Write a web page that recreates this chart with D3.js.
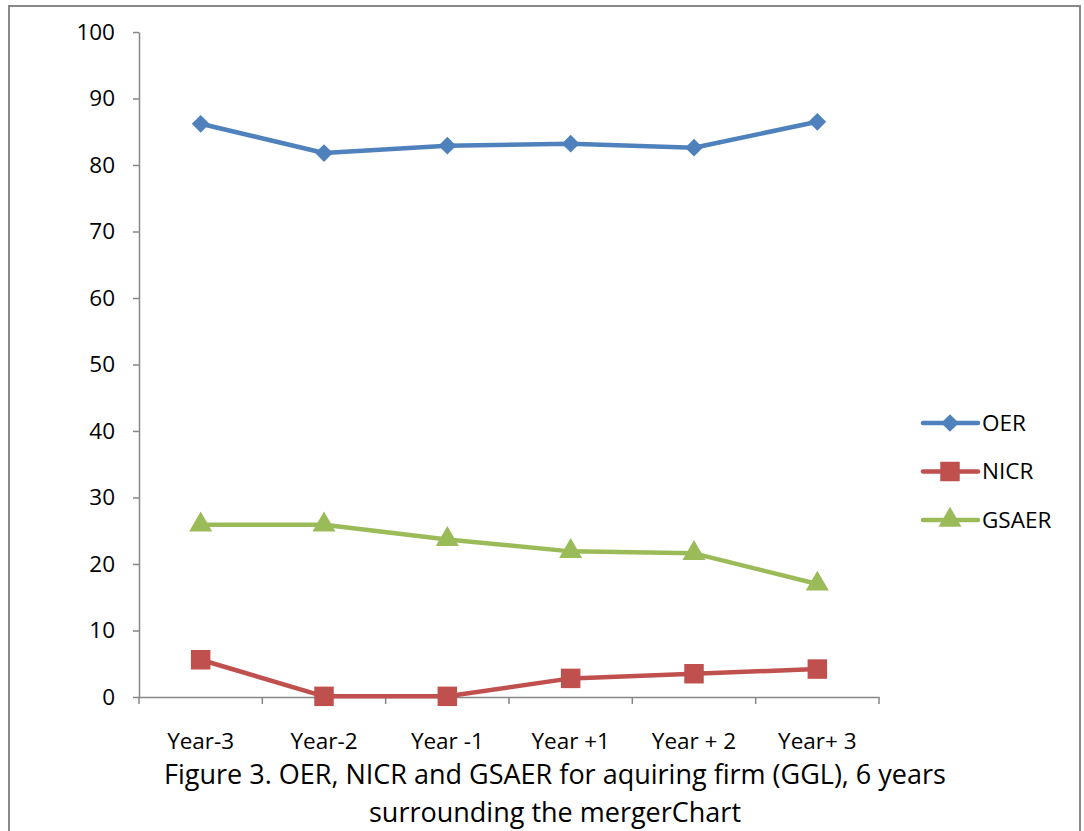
<!DOCTYPE html>
<html>
<head>
<meta charset="utf-8">
<script src="https://cdn.jsdelivr.net/npm/d3@7"></script>
<style>
    body { margin: 0; background: #fff; }
    svg text { font-family: "Open Sans", "Noto Sans", sans-serif; fill: #000; }
</style>
</head>
<body>
<div id="chart"></div>
<script>
"use strict";

var years = ["Year-3", "Year-2", "Year -1", "Year +1", "Year + 2", "Year+ 3"];
var oer = [86.2, 81.8, 82.9, 83.2, 82.6, 86.5];
var nicr = [5.6, 0.1, 0.1, 2.8, 3.5, 4.2];
var gsaer = [25.9, 25.9, 23.7, 21.9, 21.6, 17.0];
var yTicks = [0, 10, 20, 30, 40, 50, 60, 70, 80, 90, 100];
var captionLines = [
    "Figure 3. OER, NICR and GSAER for aquiring firm (GGL), 6 years",
    "surrounding the mergerChart"
];

var series = [
    { name: "OER", values: oer, color: "#4F81BD", shape: d3.symbolDiamond2, size: 200 },
    { name: "NICR", values: nicr, color: "#C0504D", shape: d3.symbolSquare, size: 380 },
    { name: "GSAER", values: gsaer, color: "#9BBB59", shape: d3.symbolTriangle, size: 230 }
];

var W = 1084, H = 831;
var margin = { top: 32, left: 139, right: 205, bottom: 134 };
var width = W - margin.left - margin.right;
var height = H - margin.top - margin.bottom;

var svg = d3.select("#chart").append("svg")
    .attr("width", W)
    .attr("height", H);

// chart frame
svg.append("rect")
    .attr("x", 9).attr("y", 6)
    .attr("width", 1071).attr("height", 840)
    .attr("fill", "#fff")
    .attr("stroke", "#888")
    .attr("stroke-width", 2);

var g = svg.append("g")
    .attr("transform", "translate(" + margin.left + "," + margin.top + ")");

var x = d3.scaleBand().domain(years).range([0, width]);
var y = d3.scaleLinear().domain([0, 100]).range([height, 0]);

var yAxis = d3.axisLeft(y).tickValues(yTicks).tickSize(6).tickPadding(18).tickSizeOuter(0);
var yG = g.append("g").call(yAxis);
yG.selectAll("text").style("font-size", "22.5px");

var xAxis = d3.axisBottom(x).tickSize(0).tickPadding(36);
var xG = g.append("g").attr("transform", "translate(0," + height + ")").call(xAxis);
xG.selectAll("text").style("font-size", "22.5px");
// tick marks at band edges, like the original
xG.selectAll(".edge")
    .data(years.concat([null]))
    .enter().append("line")
    .attr("class", "edge")
    .attr("x1", function (d, i) { return i * x.bandwidth(); })
    .attr("x2", function (d, i) { return i * x.bandwidth(); })
    .attr("y1", 0).attr("y2", 7);

svg.selectAll(".domain, .tick line, .edge")
    .attr("stroke", "#868686")
    .attr("stroke-width", 1.5);

var line = d3.line()
    .x(function (d, i) { return x(years[i]) + x.bandwidth() / 2; })
    .y(function (d) { return y(d); });

series.forEach(function (s) {
    g.append("path")
        .datum(s.values)
        .attr("d", line)
        .attr("fill", "none")
        .attr("stroke", s.color)
        .attr("stroke-width", 4.5)
        .attr("stroke-linejoin", "round");
    g.selectAll(".m-" + s.name)
        .data(s.values)
        .enter().append("path")
        .attr("d", d3.symbol().type(s.shape).size(s.size))
        .attr("transform", function (d, i) {
            return "translate(" + (x(years[i]) + x.bandwidth() / 2) + "," + y(d) + ")";
        })
        .attr("fill", s.color);
});

// legend
var legend = svg.append("g").attr("transform", "translate(923,423)");
var rows = legend.selectAll("g").data(series).enter().append("g")
    .attr("transform", function (d, i) { return "translate(0," + i * 48.5 + ")"; });
rows.append("line")
    .attr("x1", 0).attr("x2", 55)
    .attr("stroke", function (d) { return d.color; })
    .attr("stroke-width", 4.5)
    .attr("stroke-linecap", "round");
rows.append("path")
    .attr("d", function (d) { return d3.symbol().type(d.shape).size(d.size)(); })
    .attr("transform", "translate(27,0)")
    .attr("fill", function (d) { return d.color; });
rows.append("text")
    .attr("x", 59).attr("dy", "0.35em")
    .style("font-size", "22.5px")
    .text(function (d) { return d.name; });

// caption
svg.selectAll(".caption")
    .data(captionLines)
    .enter().append("text")
    .attr("class", "caption")
    .attr("x", 555)
    .attr("y", function (d, i) { return 784 + i * 38; })
    .attr("text-anchor", "middle")
    .style("font-size", "27px")
    .text(function (d) { return d; });
</script>
</body>
</html>
